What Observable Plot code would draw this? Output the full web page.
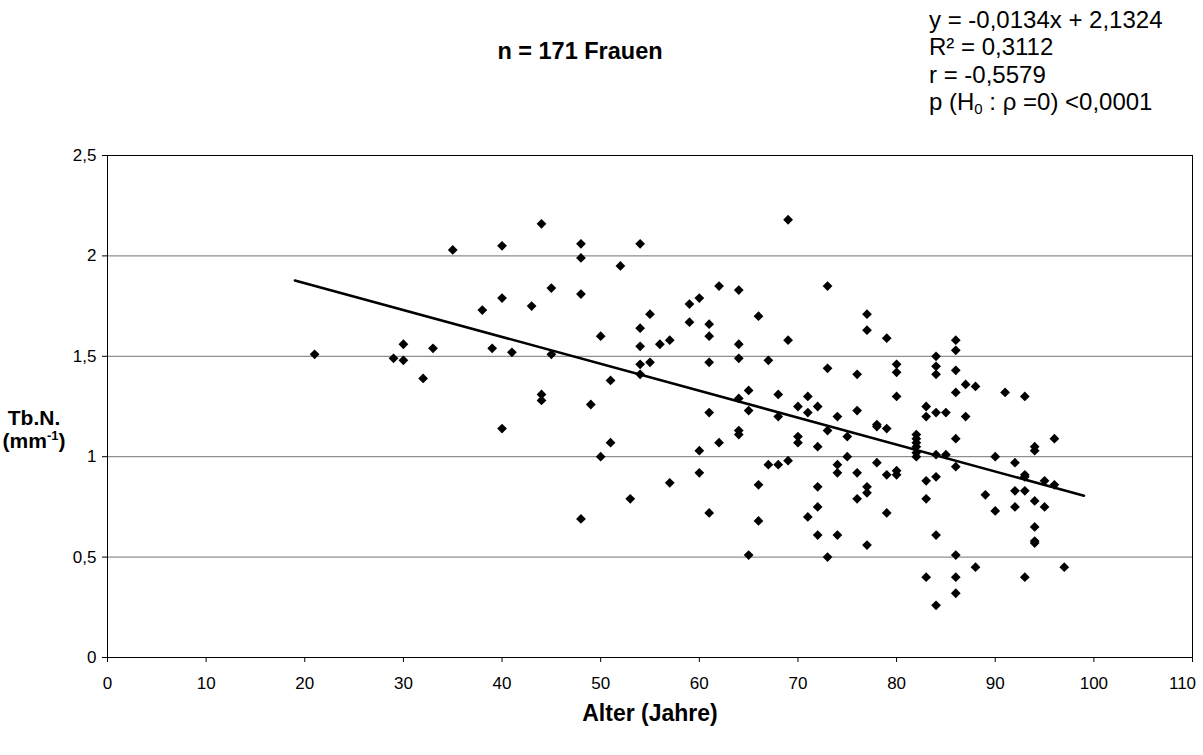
<!DOCTYPE html>
<html>
<head>
<meta charset="utf-8">
<script src="https://cdn.jsdelivr.net/npm/d3@7"></script>
<script src="https://cdn.jsdelivr.net/npm/@observablehq/plot@0.6"></script>
<style>
  html, body { margin: 0; padding: 0; background: #fff; }
  #chart { width: 1203px; height: 755px; }
  svg text { font-family: "Liberation Sans", Arial, sans-serif; }
</style>
</head>
<body>
<div id="chart"></div>
<script>
// Alter (Jahre)
const ages = [21,29,30,30,32,33,35,38,39,40,40,40,41,43,44,44,44,45,45,48,48,48,48,49,50,50,51,51,52,53,
  54,54,54,54,54,55,55,56,57,57,59,59,60,60,60,61,61,61,61,61,62,62,64,64,64,64,64,64,65,65,65,66,66,66,
  67,67,68,68,68,69,69,69,70,70,70,71,71,71,72,72,72,72,72,73,73,73,73,74,74,74,74,75,75,76,76,76,76,
  77,77,77,77,77,78,78,78,79,79,79,79,80,80,80,80,80,82,82,82,82,82,82,83,83,83,83,83,84,84,84,84,84,84,84,84,
  85,85,86,86,86,86,86,86,86,86,86,87,87,88,88,89,90,90,91,92,92,92,93,93,93,93,93,94,94,94,94,94,94,95,95,96,96,97];
// Tb.N. (mm^-1)
const tbn = [1.51,1.49,1.56,1.48,1.39,1.54,2.03,1.73,1.54,2.05,1.79,1.14,1.52,1.75,2.16,1.31,1.28,1.84,1.51,2.06,1.99,1.81,0.69,1.26,1.60,1.00,1.38,1.07,1.95,0.79,
  2.06,1.64,1.55,1.46,1.41,1.71,1.47,1.56,1.58,0.87,1.76,1.67,1.79,1.03,0.92,1.66,1.60,1.47,1.22,0.72,1.85,1.07,1.83,1.56,1.49,1.29,1.13,1.11,1.33,1.23,0.51,1.70,0.86,0.68,
  1.48,0.96,1.31,1.20,0.96,2.18,1.58,0.98,1.25,1.10,1.07,1.30,1.22,0.70,1.25,1.05,0.85,0.75,0.61,1.85,1.44,1.13,0.50,1.20,0.96,0.92,0.61,1.10,1.00,1.41,1.23,0.92,0.79,
  1.71,1.63,0.85,0.82,0.56,1.16,1.15,0.97,1.59,1.14,0.91,0.72,1.46,1.42,1.30,0.93,0.91,1.11,1.09,1.07,1.05,1.02,1.00,1.25,1.20,0.88,0.79,0.40,1.50,1.45,1.41,1.22,1.01,0.90,0.61,0.26,
  1.22,1.01,1.58,1.53,1.43,1.32,1.09,0.95,0.51,0.40,0.32,1.36,1.20,1.35,0.45,0.81,1.00,0.73,1.32,0.97,0.83,0.75,1.30,0.91,0.90,0.83,0.40,1.05,1.03,0.78,0.65,0.58,0.57,0.88,0.75,1.09,0.86,0.45];

// Regression line (from the chart's equation) and its drawn extent
const slope = -0.0134;
const intercept = 2.1324;
const lineAges = [19, 99];

const xTicks = [0,10,20,30,40,50,60,70,80,90,100];
const xLastTick = [110];
const yTicks = [0,0.5,1,1.5,2,2.5];
const gridValues = [0.5,1,1.5,2];

const points = ages.map((a, i) => ({age: a, v: tbn[i]}));
const reg = lineAges.map(a => ({age: a, v: intercept + slope * a}));
const fmt = d => String(d).replace(".", ",");

const plot = Plot.plot({
  width: 1203,
  height: 755,
  marginLeft: 107,
  marginRight: 11,
  marginTop: 155,
  marginBottom: 98,
  style: {fontFamily: '"Liberation Sans", Arial, sans-serif', fontSize: "17px", color: "#000", background: "#fff"},
  x: {domain: [0, 110]},
  y: {domain: [0, 2.5]},
  marks: [
    Plot.gridY(gridValues, {stroke: "#000", strokeOpacity: 0.55, strokeWidth: 1}),
    Plot.frame({stroke: "#000", strokeWidth: 1}),
    Plot.axisX({ticks: xTicks, tickSize: 5, tickPadding: 14, label: null, fontSize: 17}),
    Plot.axisX({ticks: xLastTick, tickSize: 5, tickPadding: 14, label: null, fontSize: 17, text: null}),
    Plot.text(xLastTick, {x: d => d, frameAnchor: "bottom", dy: 26, dx: -10, fontSize: 17, lineAnchor: "middle"}),
    Plot.axisY({ticks: yTicks, tickSize: 5, tickPadding: 6, tickFormat: fmt, label: null, fontSize: 17}),
    Plot.line(reg, {x: "age", y: "v", stroke: "#000", strokeWidth: 2.5}),
    Plot.dot(points, {x: "age", y: "v", symbol: "diamond2", r: 4.4, fill: "#000", stroke: "none"})
  ]
});

document.getElementById("chart").appendChild(plot);
const svg = d3.select(plot);

// Chart title
svg.append("text").attr("x", 580).attr("y", 59).attr("text-anchor", "middle")
  .attr("font-size", 23.5).attr("font-weight", "bold").text("n = 171 Frauen");

// Equation block
const eq = svg.append("g").attr("font-size", 24).attr("fill", "#000").attr("text-anchor", "start");
eq.append("text").attr("x", 929).attr("y", 28).text("y = -0,0134x + 2,1324");
eq.append("text").attr("x", 929).attr("y", 55).text("R² = 0,3112");
eq.append("text").attr("x", 929).attr("y", 83).text("r = -0,5579");
const p = eq.append("text").attr("x", 929).attr("y", 110);
p.append("tspan").text("p (H");
p.append("tspan").attr("font-size", 15).attr("dy", 4).text("0");
p.append("tspan").attr("dy", -4).text(" : ρ =0) <0,0001");

// Axis titles
svg.append("text").attr("x", 650).attr("y", 721).attr("text-anchor", "middle")
  .attr("font-size", 23).attr("font-weight", "bold").text("Alter (Jahre)");
svg.append("text").attr("x", 34).attr("y", 425).attr("text-anchor", "middle")
  .attr("font-size", 21).attr("font-weight", "bold").text("Tb.N.");
const yl = svg.append("text").attr("x", 34).attr("y", 448).attr("text-anchor", "middle")
  .attr("font-size", 21).attr("font-weight", "bold");
yl.append("tspan").text("(mm");
yl.append("tspan").attr("font-size", 13).attr("dy", -8).text("-1");
yl.append("tspan").attr("dy", 8).text(")");
</script>
</body>
</html>
